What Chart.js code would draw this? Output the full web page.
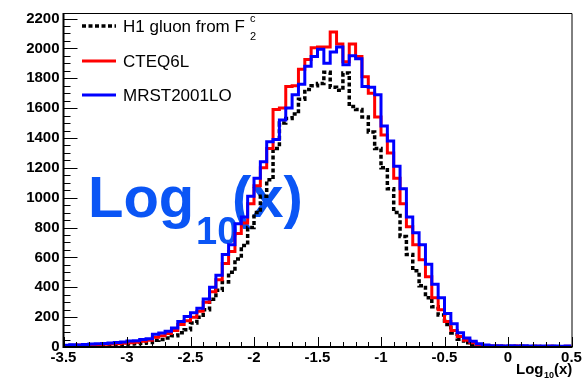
<!DOCTYPE html>
<html>
<head>
<meta charset="utf-8">
<script src="https://cdn.jsdelivr.net/npm/chart.js@4.4.1/dist/chart.umd.min.js"></script>
<style>
  html, body { margin: 0; padding: 0; background: #fff; }
</style>
</head>
<body>
<canvas id="chart" width="584" height="379"></canvas>
<script>
// histogram binning: 80 bins of 0.05 from -3.5 to 0.5
const xLow = -3.5;
const xHigh = 0.5;
const binWidth = 0.05;
const xTicks = [-3.5, -3, -2.5, -2, -1.5, -1, -0.5, 0, 0.5];
const yTicks = [0, 200, 400, 600, 800, 1000, 1200, 1400, 1600, 1800, 2000, 2200];

const h1Gluon = [
  8, 10, 8, 10, 12, 12, 14, 15, 16, 18,
  20, 22, 25, 30, 45, 50, 60, 75, 95, 115,
  160, 200, 250, 320, 380, 435, 500, 590, 680, 800,
  900, 1010, 1120, 1330, 1500, 1530, 1560, 1660, 1725, 1750,
  1765, 1840, 1740, 1720, 1835, 1610, 1590, 1540, 1440, 1330,
  1200, 1060, 900, 740, 620, 510, 410, 330, 270, 215,
  150, 94, 52, 28, 14, 7, 4, 4, 3, 4,
  3, 3, 3, 2, 3, 2, 2, 3, 2, 2
];
const cteq6l = [
  10, 10, 14, 12, 15, 15, 18, 20, 22, 25,
  28, 32, 38, 45, 65, 75, 90, 110, 150, 175,
  200, 240, 300, 370, 450, 560, 640, 760, 830, 960,
  1080, 1200, 1330, 1590, 1600, 1745, 1750, 1860, 1925, 2005,
  2010, 2010, 2110, 2030, 1910, 2030, 1945, 1810, 1700, 1540,
  1420, 1300, 1130, 960, 805, 685, 585, 470, 330, 250,
  170, 110, 70, 45, 28, 16, 10, 7, 6, 5,
  5, 6, 5, 4, 5, 4, 5, 4, 4, 5
];
const mrst2001lo = [
  12, 15, 13, 16, 20, 22, 24, 27, 30, 33,
  40, 42, 50, 55, 85, 94, 105, 127, 170, 204,
  230, 260, 322, 400, 481, 620, 685, 825, 870, 1010,
  1130, 1240, 1375, 1390, 1520, 1600, 1690, 1760, 1880, 1945,
  1995, 1900, 1975, 2010, 1890, 1950, 1930, 1745, 1740, 1690,
  1480, 1380, 1210, 1060, 870, 765, 685, 555, 420, 330,
  225, 155, 95, 60, 38, 22, 13, 9, 8, 7,
  8, 7, 8, 6, 7, 6, 7, 6, 5, 6
];

const FONT = '"Liberation Sans", Arial, Helvetica, sans-serif';
const BIG_BLUE = '#0a55f5';

// left bin edges + closing edge, drawn as steps
function toSteps(values) {
  const pts = values.map((v, i) => ({ x: xLow + i * binWidth, y: v }));
  pts.push({ x: xHigh, y: values[values.length - 1] });
  return pts;
}

const series = [
  { label: "H1 gluon from F", data: h1Gluon, color: "#000000", dash: [4, 2.5], width: 3.5, order: 2 },
  { label: "CTEQ6L", data: cteq6l, color: "#ff0000", dash: [], width: 3, order: 1 },
  { label: "MRST2001LO", data: mrst2001lo, color: "#0000ff", dash: [], width: 3, order: 0 },
];

const rootStyle = {
  id: "rootStyle",
  beforeDatasetsDraw(chart) {
    const ctx = chart.ctx;
    ctx.save();
    ctx.fillStyle = BIG_BLUE;
    ctx.textBaseline = "alphabetic";
    ctx.font = "bold 58px " + FONT;
    ctx.fillText("Log", 88, 217);
    ctx.font = "bold 38px " + FONT;
    ctx.fillText("10", 196, 244);
    ctx.font = "bold 58px " + FONT;
    ctx.fillText("(x)", 232, 217);
    ctx.restore();
  },
  afterDatasetsDraw(chart) {
    const ctx = chart.ctx;
    const { left, right, top, bottom } = chart.chartArea;
    const xs = chart.scales.x;
    const ys = chart.scales.y;
    ctx.save();

    // frame
    ctx.strokeStyle = "#000";
    ctx.lineWidth = 1;
    ctx.beginPath();
    ctx.moveTo(left, top + 0.5);
    ctx.lineTo(right + 0.5, top + 0.5);
    ctx.lineTo(right + 0.5, bottom);
    ctx.stroke();
    ctx.lineWidth = 2;
    ctx.beginPath();
    ctx.moveTo(left, top);
    ctx.lineTo(left, bottom);
    ctx.lineTo(right + 1, bottom);
    ctx.stroke();

    // inner ticks
    ctx.lineWidth = 1;
    ctx.beginPath();
    for (let k = 0; k <= 40; k++) {
      const px = Math.round(xs.getPixelForValue(xLow + k * 0.1)) + 0.5;
      const len = k % 5 === 0 ? 10 : 5;
      ctx.moveTo(px, bottom);
      ctx.lineTo(px, bottom - len);
    }
    for (let k = 0; k <= 44; k++) {
      const py = Math.round(ys.getPixelForValue(k * 50)) + 0.5;
      const len = k % 4 === 0 ? 14 : 7;
      ctx.moveTo(left, py);
      ctx.lineTo(left + len, py);
    }
    ctx.stroke();

    // legend
    const rows = [26, 61, 95];
    series.forEach((s, i) => {
      ctx.strokeStyle = s.color;
      ctx.lineWidth = s.width;
      ctx.setLineDash(s.dash);
      ctx.beginPath();
      ctx.moveTo(82, rows[i]);
      ctx.lineTo(116, rows[i]);
      ctx.stroke();
      ctx.setLineDash([]);
      ctx.fillStyle = "#000";
      ctx.font = "17px " + FONT;
      ctx.fillText(s.label, 123, rows[i] + 6);
    });
    ctx.font = "11px " + FONT;
    ctx.fillText("c", 250, 22);
    ctx.fillText("2", 250, 40);

    // x axis title
    ctx.font = "bold 15px " + FONT;
    ctx.fillText("Log", 516, 374);
    ctx.font = "bold 9px " + FONT;
    ctx.fillText("10", 544, 378);
    ctx.font = "bold 15px " + FONT;
    ctx.fillText("(x)", 554, 374);
    ctx.restore();
  }
};

new Chart(document.getElementById("chart"), {
  type: "line",
  data: {
    datasets: series.map((s) => ({
      label: s.label,
      data: toSteps(s.data),
      borderColor: s.color,
      borderWidth: s.width,
      borderDash: s.dash,
      stepped: "before",
      pointRadius: 0,
      fill: false,
      order: s.order,
    })),
  },
  options: {
    responsive: false,
    animation: false,
    devicePixelRatio: 1,
    layout: { padding: { left: 0, right: 12.5, top: 6, bottom: 0 } },
    plugins: { legend: { display: false }, tooltip: { enabled: false } },
    scales: {
      x: {
        type: "linear",
        min: xLow,
        max: xHigh,
        afterBuildTicks: (s) => { s.ticks = xTicks.map((v) => ({ value: v })); },
        afterFit: (s) => { s.height = 32; },
        grid: { display: false, drawTicks: false },
        border: { display: false },
        ticks: {
          color: "#000",
          padding: 2,
          maxRotation: 0,
          autoSkip: false,
          font: { family: FONT, size: 15, weight: "bold" },
          callback: (v) => String(v),
        },
      },
      y: {
        min: 0,
        max: 2237,
        afterBuildTicks: (s) => { s.ticks = yTicks.map((v) => ({ value: v })); },
        afterFit: (s) => { s.width = 63.5; },
        grid: { display: false, drawTicks: false },
        border: { display: false },
        ticks: {
          color: "#000",
          padding: 4,
          font: { family: FONT, size: 15, weight: "bold" },
          callback: (v) => String(v),
        },
      },
    },
  },
  plugins: [rootStyle],
});
</script>
</body>
</html>
